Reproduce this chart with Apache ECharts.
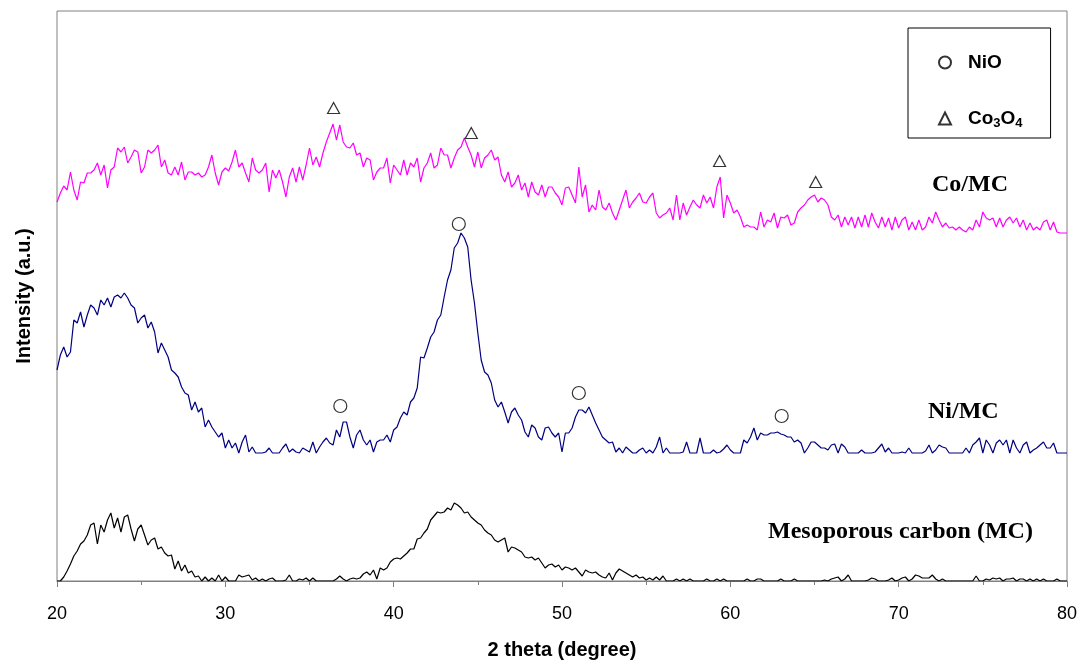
<!DOCTYPE html>
<html>
<head>
<meta charset="utf-8">
<script src="https://cdn.jsdelivr.net/npm/echarts@6/dist/echarts.min.js"></script>
<style>
  html, body { margin: 0; padding: 0; background: #fff; }
  #chart { width: 1080px; height: 661px; }
</style>
</head>
<body>
<div id="chart"></div>
<script>
// 2-theta sampling: 20.0 to 80.0 deg, every 0.2 deg (301 points)
const thetaStart = 20, thetaStep = 0.2;
const xTicks = [20, 30, 40, 50, 60, 70, 80];

// Co/MC (magenta), one line per degree: x.0 x.2 x.4 x.6 x.8
const coMC = [
  379, 388, 395, 391, 409,
  391, 381, 399, 398, 408,
  408, 411, 418, 406, 416,
  393, 411, 414, 433, 429,
  434, 418, 424, 431, 429,
  408, 414, 431, 428, 431,
  436, 414, 421, 408, 406,
  414, 406, 419, 401, 409,
  409, 406, 408, 404, 406,
  414, 426, 408, 396, 409,
  413, 410, 419, 431, 414,
  418, 408, 399, 423, 411,
  408, 411, 418, 389, 411,
  403, 411, 399, 384, 404,
  413, 399, 414, 401, 416,
  433, 416, 424, 414, 428,
  439, 448, 457, 441, 456,
  439, 434, 433, 438, 426,
  428, 414, 423, 421, 401,
  409, 413, 413, 423, 398,
  416, 411, 406, 421, 406,
  418, 414, 423, 399, 413,
  418, 428, 413, 416, 433,
  426, 426, 413, 423, 431,
  434, 443, 434, 426, 414,
  429, 413, 423, 426, 431,
  421, 424, 406, 399, 409,
  394, 398, 406, 391, 398,
  384, 399, 389, 386, 396,
  384, 394, 394, 388, 384,
  376, 393, 394, 386, 378,
  414, 384, 396, 369, 376,
  371, 391, 374, 371, 378,
  368, 361, 371, 381, 391,
  373, 379, 383, 388, 379,
  378, 384, 388, 368, 363,
  366, 368, 373, 361, 386,
  361, 378, 366, 374, 381,
  376, 373, 386, 378, 384,
  373, 394, 404, 363, 386,
  378, 368, 371, 364, 354,
  356, 354, 354, 351, 369,
  354, 361, 359, 368, 353,
  364, 363, 366, 356, 358,
  369, 373, 376, 381, 384,
  386, 379, 383, 381, 376,
  364, 361, 366, 354, 364,
  356, 364, 353, 364, 354,
  366, 354, 368, 359, 353,
  364, 354, 363, 351, 364,
  353, 361, 364, 351, 359,
  351, 361, 351, 354, 364,
  358, 369, 361, 354, 358,
  353, 354, 351, 354, 351,
  349, 354, 351, 361, 354,
  369, 363, 361, 363, 354,
  363, 354, 361, 364, 358,
  363, 354, 361, 351, 358,
  351, 354, 351, 359, 361,
  351, 359, 349, 348, 348,
  348
];

// Ni/MC (navy)
const niMC = [
  211, 226, 234, 224, 229,
  261, 258, 269, 254, 266,
  276, 273, 266, 281, 276,
  283, 274, 284, 286, 283,
  288, 283, 276, 273, 258,
  263, 266, 253, 259, 249,
  228, 238, 231, 224, 211,
  208, 204, 194, 188, 186,
  171, 179, 169, 173, 154,
  161, 154, 149, 144, 148,
  133, 141, 133, 138, 128,
  139, 146, 129, 134, 128,
  128, 128, 129, 133, 128,
  128, 128, 133, 137, 129,
  132, 129, 128, 133, 131,
  129, 139, 128, 134, 139,
  143, 138, 136, 151, 144,
  159, 159, 144, 133, 146,
  151, 141, 136, 141, 129,
  139, 141, 141, 146, 139,
  151, 154, 163, 169, 166,
  179, 183, 193, 224, 223,
  233, 244, 249, 261, 266,
  284, 301, 311, 333, 338,
  348, 343, 334, 301, 278,
  248, 221, 209, 206, 198,
  181, 174, 179, 169, 158,
  169, 173, 166, 161, 149,
  144, 156, 153, 144, 141,
  153, 154, 148, 144, 148,
  129, 148, 148, 153, 164,
  171, 171, 168, 174, 166,
  158, 151, 144, 141, 138,
  139, 129, 133, 128, 134,
  131, 128, 128, 131, 133,
  128, 131, 128, 134, 144,
  128, 133, 128, 128, 128,
  128, 129, 139, 128, 128,
  128, 143, 128, 128, 128,
  131, 128, 129, 132, 136,
  131, 128, 128, 128, 141,
  138, 144, 153, 141, 148,
  146, 146, 148, 148, 149,
  147, 146, 144, 144, 139,
  141, 138, 128, 133, 139,
  139, 136, 133, 133, 131,
  136, 137, 128, 137, 134,
  128, 128, 128, 128, 131,
  128, 128, 128, 129, 133,
  137, 129, 133, 128, 128,
  128, 129, 128, 133, 128,
  128, 128, 128, 130, 136,
  128, 131, 136, 134, 133,
  128, 128, 128, 128, 128,
  133, 128, 136, 139, 143,
  128, 141, 136, 128, 138,
  141, 136, 141, 128, 141,
  133, 128, 136, 139, 128,
  131, 133, 136, 139, 133,
  133, 138, 128, 128, 128,
  128
];

// Mesoporous carbon, MC (black)
const mcCarbon = [
  0, 0, 4, 10, 17,
  25, 30, 37, 40, 46,
  56, 58, 37, 56, 49,
  61, 68, 53, 63, 49,
  64, 66, 52, 40, 52,
  56, 46, 36, 41, 43,
  32, 34, 28, 25, 26,
  12, 20, 10, 16, 8,
  10, 4, 5, 0, 4,
  0, 3, 0, 6, 0,
  4, 0, 0, 0, 6,
  4, 5, 6, 1, 3,
  0, 2, 0, 2, 3,
  0, 0, 0, 1, 6,
  0, 0, 2, 1, 3,
  0, 3, 0, 0, 0,
  0, 0, 0, 2, 5,
  2, 0, 2, 3, 2,
  3, 7, 9, 6, 11,
  2, 13, 11, 13, 19,
  22, 23, 22, 25, 28,
  32, 32, 42, 43, 48,
  52, 61, 65, 69, 68,
  69, 73, 71, 78, 76,
  73, 68, 69, 64, 61,
  58, 56, 51, 48, 46,
  41, 39, 41, 43, 29,
  34, 33, 31, 29, 24,
  23, 24, 21, 23, 18,
  13, 16, 17, 14, 16,
  11, 14, 13, 11, 13,
  9, 5, 11, 9, 8,
  9, 6, 4, 3, 8,
  1, 8, 12, 10, 8,
  6, 4, 6, 3, 4,
  1, 3, 1, 4, 1,
  5, 0, 0, 0, 2,
  0, 2, 0, 2, 0,
  0, 0, 0, 2, 0,
  0, 2, 0, 2, 0,
  0, 0, 0, 0, 0,
  2, 0, 0, 2, 2,
  0, 0, 0, 0, 0,
  2, 0, 0, 0, 2,
  0, 0, 0, 0, 0,
  0, 0, 0, 1, 0,
  2, 3, 4, 0, 2,
  6, 0, 0, 0, 0,
  0, 1, 3, 2, 0,
  0, 0, 1, 3, 0,
  1, 3, 4, 0, 2,
  6, 5, 3, 3, 3,
  6, 2, 0, 2, 0,
  0, 0, 0, 0, 0,
  0, 0, 0, 5, 0,
  0, 2, 1, 3, 2,
  3, 0, 2, 2, 3,
  0, 2, 2, 0, 2,
  0, 2, 0, 2, 0,
  0, 0, 2, 0, 0,
  0
];

// Peak markers [2theta, intensity]
const nioPeaks = [[36.83, 175], [43.87, 357], [51.0, 188], [63.05, 165]];
const co3o4Peaks = [[36.43, 473], [44.61, 448], [59.36, 420], [65.07, 399]];

const seriesNames = ['Co/MC', 'Ni/MC', 'Mesoporous carbon (MC)'];
const legendNames = ['NiO', 'Co3O4'];

function toPairs(arr) {
  return arr.map((v, i) => [Math.round((thetaStart + i * thetaStep) * 10) / 10, v]);
}

const chart = echarts.init(document.getElementById('chart'), null, { renderer: 'canvas' });

const lineStyleBase = { width: 1.2 };

chart.setOption({
  animation: false,
  backgroundColor: '#ffffff',
  grid: {
    show: true, left: 57, right: 13, top: 11, bottom: 80,
    outerBoundsMode: 'none', containLabel: false,
    borderColor: '#808080', borderWidth: 1, backgroundColor: 'transparent'
  },
  xAxis: {
    type: 'value', min: 20, max: 80, interval: 10,
    name: '2 theta (degree)', nameLocation: 'middle', nameGap: 59,
    nameTextStyle: { fontFamily: 'Liberation Sans', fontWeight: 'bold', fontSize: 20, color: '#000' },
    axisLine: { show: true, lineStyle: { color: '#808080', width: 1 } },
    axisTick: { show: true, length: 6, lineStyle: { color: '#808080' } },
    minorTick: { show: true, splitNumber: 2, length: 4, lineStyle: { color: '#808080' } },
    axisLabel: {
      margin: 24, fontFamily: 'Liberation Sans', fontSize: 18, color: '#000',
      customValues: xTicks
    },
    splitLine: { show: false }
  },
  yAxis: {
    type: 'value', min: 0, max: 570,
    name: 'Intensity (a.u.)', nameLocation: 'middle', nameGap: 23, nameRotate: 90,
    nameTextStyle: { fontFamily: 'Liberation Sans', fontWeight: 'bold', fontSize: 20, color: '#000' },
    axisLine: { show: false }, axisTick: { show: false }, axisLabel: { show: false },
    splitLine: { show: false }
  },
  legend: {
    data: legendNames,
    orient: 'vertical',
    left: 908, top: 28,
    padding: [25, 28, 8, 30],
    itemGap: 37,
    itemWidth: 12, itemHeight: 12,
    selectedMode: false,
    borderColor: '#000', borderWidth: 1,
    backgroundColor: '#fff',
    formatter: function (name) {
      return name === 'Co3O4' ? '{g| }Co{s|3}O{s|4}' : '{g| }' + name;
    },
    textStyle: {
      fontFamily: 'Liberation Sans', fontWeight: 'bold', fontSize: 19, color: '#000',
      rich: {
        g: { width: 12, fontSize: 19 },
        s: { fontFamily: 'Liberation Sans', fontWeight: 'bold', fontSize: 13, color: '#000', padding: [10, 0, 0, 0] }
      }
    }
  },
  series: [
    {
      name: seriesNames[0], type: 'line', data: toPairs(coMC), showSymbol: false, symbol: 'none',
      lineStyle: Object.assign({ color: '#ff00ff' }, lineStyleBase), itemStyle: { color: '#ff00ff' }, z: 2
    },
    {
      name: seriesNames[1], type: 'line', data: toPairs(niMC), showSymbol: false, symbol: 'none',
      lineStyle: Object.assign({ color: '#000080' }, lineStyleBase), itemStyle: { color: '#000080' }, z: 2
    },
    {
      name: seriesNames[2], type: 'line', data: toPairs(mcCarbon), showSymbol: false, symbol: 'none',
      lineStyle: Object.assign({ color: '#000000' }, lineStyleBase), itemStyle: { color: '#000000' }, z: 3
    },
    {
      name: 'NiO', type: 'scatter', data: nioPeaks, symbol: 'circle', symbolSize: 13,
      itemStyle: { color: '#ffffff', borderColor: '#000', borderWidth: 1.2 }, z: 5
    },
    {
      name: 'Co3O4', type: 'scatter', data: co3o4Peaks, symbol: 'triangle', symbolSize: [12, 11],
      itemStyle: { color: '#ffffff', borderColor: '#000', borderWidth: 1.2 }, z: 5
    }
  ],
  graphic: [
    { type: 'text', x: 932, y: 185, style: { text: 'Co/MC', font: 'bold 24px "Liberation Serif"', fill: '#000', verticalAlign: 'middle' } },
    { type: 'text', x: 928, y: 412, style: { text: 'Ni/MC', font: 'bold 24px "Liberation Serif"', fill: '#000', verticalAlign: 'middle' } },
    { type: 'text', x: 768, y: 532, style: { text: 'Mesoporous carbon (MC)', font: 'bold 24px "Liberation Serif"', fill: '#000', verticalAlign: 'middle' } }
  ]
});
</script>
</body>
</html>
